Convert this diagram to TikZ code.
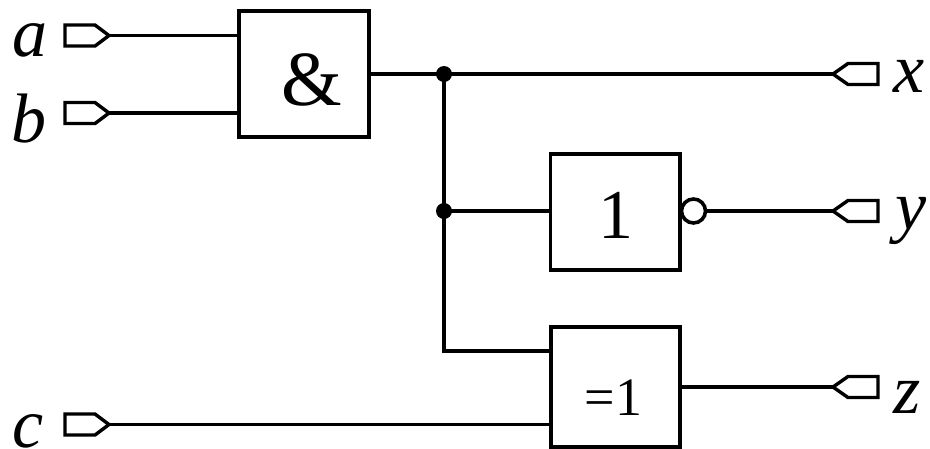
\documentclass[tikz,border=0pt]{standalone}
\usepackage{fontspec}
\setmainfont{Liberation Serif}
\usetikzlibrary{calc}
\tikzset{
  x=1pt,y=-1pt,
  gatebox/.style={draw,line width=3.1pt,inner sep=0pt,fill=white,font=\fontsize{70}{70}\selectfont},
  wire/.style={line width=3.5pt},
  pinshape/.style={line width=3.4pt,line join=miter},
  pinlabel/.style={inner sep=0pt,font=\fontsize{70}{70}\selectfont\itshape},
  junction/.style={circle,fill=black,inner sep=0pt,minimum size=16pt},
  bubble/.style={circle,draw,line width=3.6pt,inner sep=0pt,minimum size=24pt,fill=white},
  inpin/.pic={\draw[pinshape] (-44,-10.5) -- (-14,-10.5) -- (0,0) -- (-14,10.5) -- (-44,10.5) -- cycle;},
  outpin/.pic={\draw[pinshape] (45,-10.5) -- (15,-10.5) -- (0,0) -- (15,10.5) -- (45,10.5) -- cycle;},
}
\begin{document}
\begin{tikzpicture}
\useasboundingbox (0,0) rectangle (930,448);
% gates
\node[gatebox,minimum width=130pt,minimum height=126pt] (andg) at (304,74) {\hspace*{15pt}\fontsize{78}{78}\selectfont\raisebox{-31pt}[0pt][0pt]{\&}};
\node[gatebox,minimum width=129.5pt,minimum height=116pt] (notg) at (615.2,212) {\hspace*{1pt}\raisebox{-26pt}[0pt][0pt]{1}};
\node[gatebox,minimum width=129pt,minimum height=120pt] (xorg) at (615.5,387) {\hspace*{-4pt}\fontsize{54}{54}\selectfont\raisebox{-28pt}[0pt][0pt]{=1}};
\node[bubble] (inv) at (693.5,211) {};
% pin tips
\coordinate (a) at (109,35.5);
\coordinate (b) at (109,113);
\coordinate (c) at (109,424.5);
\coordinate (x) at (833,74);
\coordinate (y) at (833,211);
\coordinate (z) at (833,387);
\coordinate (jbot) at (444,351);
% junctions
\node[junction] (j1) at (444,74) {};
\node[junction] (j2) at (444,211) {};
% wires
\draw[wire] (a) -- (a -| andg.west);
\draw[wire] (b) -- (b -| andg.west);
\draw[wire] (andg.east) -- (j1.center) -- (x);
\draw[wire,line width=4pt] (j1.center) -- (j2.center) -- (jbot) -- (jbot -| xorg.west);
\draw[wire] (j2.center) -- (j2 -| notg.west);
\draw[wire] (c) -- (c -| xorg.west);
\draw[wire] (inv.east) -- (y);
\draw[wire] (z -| xorg.east) -- (z);
% pins
\pic at (a) {inpin};
\pic at (b) {inpin};
\pic at (c) {inpin};
\pic at (x) {outpin};
\pic at (y) {outpin};
\pic at (z) {outpin};
% labels
\node[pinlabel,anchor=base west] (la) at (12,56) {a};
\node[pinlabel,anchor=base west] (lb) at (11,142) {b};
\node[pinlabel,anchor=base west] (lc) at (12,447) {c};
\node[pinlabel,anchor=base west] (lx) at (893,92) {x};
\node[pinlabel,anchor=base west] (ly) at (895,229) {y};
\node[pinlabel,anchor=base west] (lz) at (893,413) {z};
\end{tikzpicture}
\end{document}
